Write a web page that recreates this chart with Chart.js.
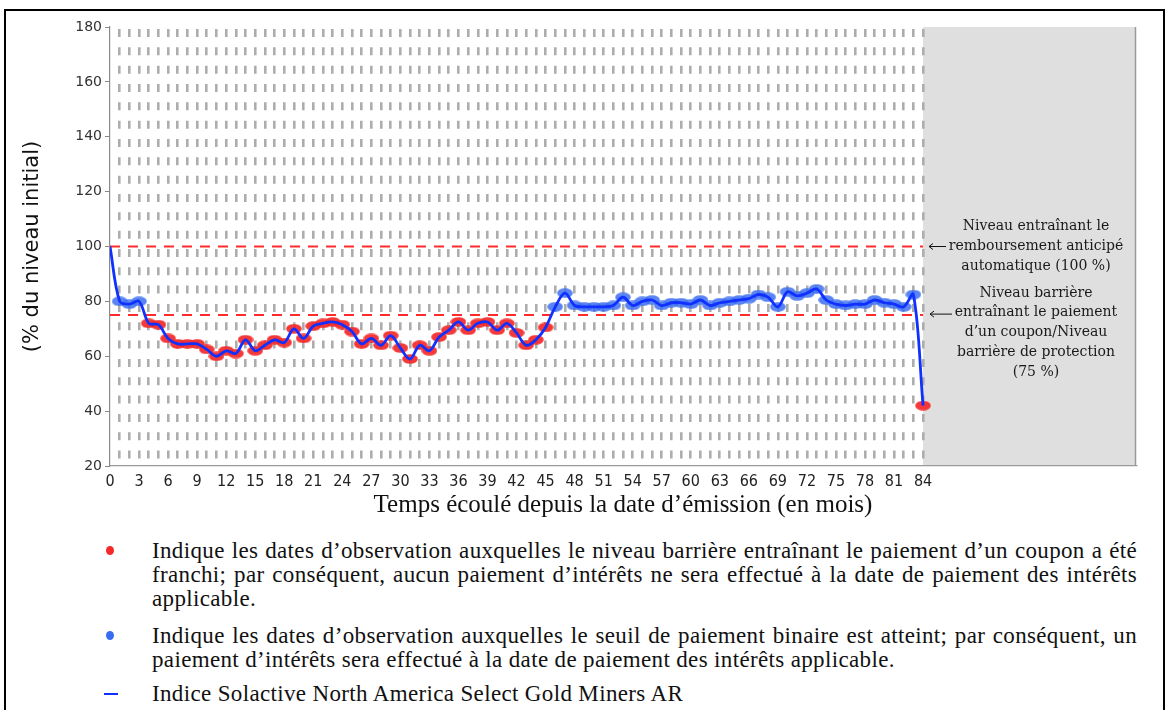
<!DOCTYPE html>
<html><head><meta charset="utf-8">
<script src="https://cdn.jsdelivr.net/npm/chart.js@4.4.1/dist/chart.umd.min.js"></script>
<style>
html,body{margin:0;padding:0;background:#fff;width:1167px;height:710px;overflow:hidden;}
#frame{position:absolute;left:4px;top:9px;width:1157px;height:740px;border:2px solid #000;}
#wrap{position:absolute;left:0;top:0;width:1167px;height:530px;}
.leg{position:absolute;left:152px;width:985px;font-family:'Liberation Serif','Times New Roman',serif;font-size:23px;letter-spacing:0.35px;line-height:24px;color:#111;}
.j{text-align:justify;text-align-last:justify;}
.dot{position:absolute;width:8px;height:9px;border-radius:50%;}
</style></head>
<body>
<div id="frame"></div>
<div id="wrap"><canvas id="c" width="1167" height="530"></canvas></div>
<div class="dot" style="left:106px;top:546px;background:#f42a2a"></div>
<div class="leg" style="top:539px">
<div class="j">Indique les dates d’observation auxquelles le niveau barrière entraînant le paiement d’un coupon a été</div>
<div class="j">franchi; par conséquent, aucun paiement d’intérêts ne sera effectué à la date de paiement des intérêts</div>
<div>applicable.</div>
</div>
<div class="dot" style="left:106px;top:631px;background:#3a6cf2"></div>
<div class="leg" style="top:624px">
<div class="j">Indique les dates d’observation auxquelles le seuil de paiement binaire est atteint; par conséquent, un</div>
<div>paiement d’intérêts sera effectué à la date de paiement des intérêts applicable.</div>
</div>
<div style="position:absolute;left:104px;top:693px;width:14px;height:2px;background:#1030ff"></div>
<div class="leg" style="top:682px">Indice Solactive North America Select Gold Miners AR</div>
<script>
// ---- data ----
const months = [0,1,2,3,4,5,6,7,8,9,10,11,12,13,14,15,16,17,18,19,20,21,22,23,24,25,26,27,28,29,30,31,32,33,34,35,36,37,38,39,40,41,42,43,44,45,46,47,48,49,50,51,52,53,54,55,56,57,58,59,60,61,62,63,64,65,66,67,68,69,70,71,72,73,74,75,76,77,78,79,80,81,82,83,84];
const indexLevel = [100,80,79,80,72,71.5,66.5,64.5,64.5,64.5,62.5,60,62,61,66,62,64,66,65,70,66.5,71,72,72.5,71.5,69,64.5,66.5,64,67.5,63,59,64,62,67,69.5,72.5,69.5,72,72.5,69.5,72,68.5,64,66,70.5,78,83,78.5,78,78,78,78.5,81.5,78.5,80,80.5,78.5,79.5,79.5,79,80.5,78.5,79.5,80,80.5,81,82.5,81.5,78,83.5,82,83,84.5,80.5,79,78.5,79,79,80.5,79.5,79,78,82.5,42];
const autocallLevel = 100;
const barrierLevel = 75;
const xTickLabels = [0,3,6,9,12,15,18,21,24,27,30,33,36,39,42,45,48,51,54,57,60,63,66,69,72,75,78,81,84];
const yTickLabels = [20,40,60,80,100,120,140,160,180];
const lastMonth = 84;

// ---- marker images ----
function ellipse(color){
  const c=document.createElement('canvas'); c.width=16; c.height=10;
  const g=c.getContext('2d'); g.fillStyle=color; g.beginPath(); g.ellipse(8,5,7.8,4.8,0,0,Math.PI*2); g.fill(); return c;
}
const redMark = ellipse('rgba(244,40,40,0.92)');
const blueMark = ellipse('rgba(60,110,240,0.85)');

const linePts = months.map((m,i)=>({x:m,y:indexLevel[i]}));

const shade = {
  id:'shade',
  beforeDraw(chart){
    const {ctx, chartArea:a, scales:{x}} = chart;
    const x84 = x.getPixelForValue(lastMonth);
    ctx.save(); ctx.fillStyle='#dfdfdf'; ctx.fillRect(x84,a.top,a.right-x84,a.bottom-a.top);
    ctx.strokeStyle='#9a9a9a'; ctx.lineWidth=1.5; ctx.beginPath(); ctx.moveTo(a.right-0.5,a.top); ctx.lineTo(a.right-0.5,a.bottom); ctx.stroke();
    ctx.restore();
  }
};
function arrow(ctx,x1,x2,y){
  ctx.beginPath(); ctx.moveTo(x1,y); ctx.lineTo(x2,y);
  ctx.moveTo(x1+4,y-3); ctx.lineTo(x1,y); ctx.lineTo(x1+4,y+3); ctx.stroke();
}
const notes = {
  id:'notes',
  afterDraw(chart){
    const {ctx, scales:{y}} = chart;
    const y100=y.getPixelForValue(autocallLevel), y75=y.getPixelForValue(barrierLevel);
    ctx.save();
    ctx.fillStyle='#1a1a1a'; ctx.strokeStyle='#111'; ctx.lineWidth=1;
    ctx.font="14px 'DejaVu Serif', serif"; ctx.textAlign='center'; ctx.textBaseline='middle';
    const cx=1036;
    ['Niveau entraînant le','remboursement anticipé','automatique (100 %)'].forEach((t,i)=>ctx.fillText(t,cx,y100-20+20*i));
    ['Niveau barrière','entraînant le paiement','d’un coupon/Niveau','barrière de protection','(75 %)'].forEach((t,i)=>ctx.fillText(t,cx,y75-22+19.7*i));
    arrow(ctx,929,946,y100);
    arrow(ctx,930,952,y75-1);
    ctx.restore();
  }
};

new Chart(document.getElementById('c'),{
  type:'line',
  data:{datasets:[
    {label:'line',data:linePts,borderColor:'#1030ff',borderWidth:2.8,pointRadius:0,tension:0.35,fill:false,order:0},
    {label:'dots',data:linePts,showLine:false,
      pointStyle:(c)=> (c.raw && c.raw.y < barrierLevel) ? redMark : blueMark,
      pointRadius:(c)=> c.dataIndex===0 ? 0 : 7, pointHoverRadius:7,order:1},
    {label:'auto',data:[{x:0,y:autocallLevel},{x:lastMonth,y:autocallLevel}],borderColor:'#ff2a2a',borderWidth:2,borderDash:[10,8],pointRadius:0,order:2},
    {label:'barrier',data:[{x:0,y:barrierLevel},{x:lastMonth,y:barrierLevel}],borderColor:'#ff2a2a',borderWidth:2,borderDash:[10,8],pointRadius:0,order:3}
  ]},
  options:{
    responsive:false,animation:false,
    layout:{padding:{top:27,right:31,left:0,bottom:0}},
    plugins:{legend:{display:false},tooltip:{enabled:false}},
    scales:{
      x:{type:'linear',min:0,max:106,
        afterBuildTicks:(s)=>{s.ticks=months.map(v=>({value:v}));},
        afterFit:(s)=>{s.height=64;},
        ticks:{autoSkip:false,maxRotation:0,padding:6,color:'#222',
          font:{family:"'Liberation Sans Narrow','DejaVu Sans Condensed',sans-serif",size:16},
          callback:(v)=> xTickLabels.includes(v) ? String(v) : ''},
        grid:{drawTicks:false,lineWidth:2.6,color:(c)=> (c.tick && c.tick.value===0) ? 'rgba(0,0,0,0)' : '#adadad'},
        border:{display:true,color:'#9a9a9a',width:1.2,dash:[8,10.33],dashOffset:-2},
        title:{display:true,text:'Temps écoulé depuis la date d’émission (en mois)',color:'#111',
          font:{family:"'Liberation Serif',serif",size:25},padding:{top:0,bottom:10}}
      },
      y:{min:20,max:180,
        afterBuildTicks:(s)=>{s.ticks=yTickLabels.map(v=>({value:v}));},
        afterFit:(s)=>{s.width=110;},
        ticks:{color:'#333',padding:3,font:{family:"'DejaVu Sans',sans-serif",size:14}},
        grid:{drawOnChartArea:false,drawTicks:true,tickLength:5,tickColor:'#888'},
        border:{display:true,color:'#8a8a8a',width:1.2},
        title:{display:true,text:'(% du niveau initial)',color:'#111',
          font:{family:"'DejaVu Sans',sans-serif",size:21},padding:{top:20,bottom:0}}
      }
    }
  },
  plugins:[shade,notes]
});
</script>
</body></html>
